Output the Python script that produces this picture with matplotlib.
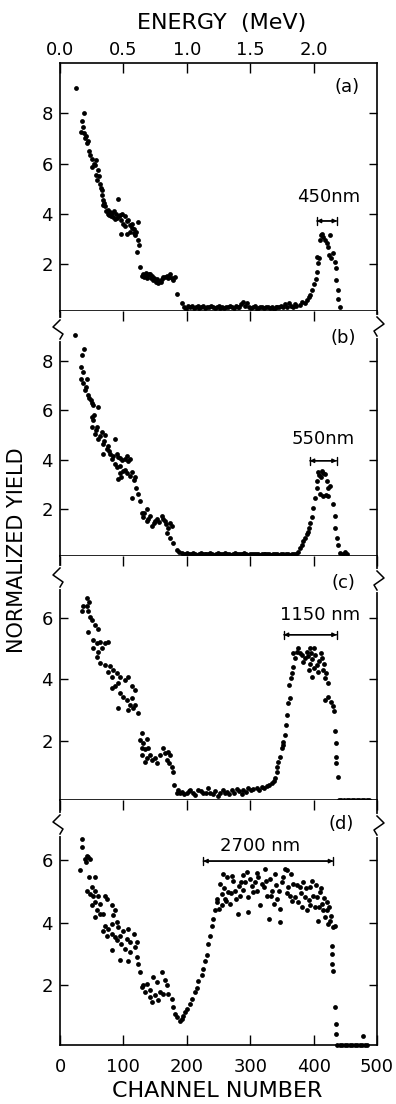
import matplotlib
matplotlib.use('Agg')
import matplotlib.pyplot as plt
from matplotlib.lines import Line2D

# ---- panel (a) ----
a_slope_ch = [26, 35, 37, 33, 38, 38, 40, 41, 43, 44, 46, 48, 50, 51, 53, 55, 57, 57, 58, 60,
              61, 63, 64, 66, 67, 68, 68, 70, 71, 73, 75, 76, 78, 79, 80, 82, 84, 85, 87, 89,
              90, 92, 93, 95, 96, 97, 98, 100, 102, 103, 105, 106, 108, 110, 111, 113, 114, 116, 117, 118,
              120, 122, 123, 123, 124]
a_slope_y = [9.0, 7.7, 7.47, 7.27, 8.0, 7.2, 7.0, 7.1, 6.8, 6.9, 6.5, 6.35, 6.2, 5.85, 6.0, 5.95, 6.14, 5.55, 5.35, 5.74,
             5.5, 5.2, 5.05, 4.95, 4.75, 4.55, 4.35, 4.45, 4.3, 4.1, 4.0, 4.15, 3.95, 4.08, 3.9, 4.05, 3.88, 4.1, 3.8, 4.0,
             3.85, 4.6, 3.9, 3.95, 3.22, 3.75, 4.0, 3.6, 3.9, 3.5, 3.22, 3.7, 3.75, 3.55, 3.3, 3.45, 3.6, 3.4, 3.25, 3.15,
             3.3, 2.5, 3.68, 2.98, 2.75]
a_step_ch = [126, 129, 131, 133, 135, 137, 138, 140, 142, 143, 145, 147, 149, 151, 153,
             155, 157, 159, 161, 163, 166, 168, 170, 172, 174, 176, 179, 181, 184, 192]
a_step_y = [1.9, 1.55, 1.6, 1.5, 1.65, 1.44, 1.55, 1.6, 1.6, 1.45, 1.55, 1.37, 1.45, 1.3, 1.4,
            1.24, 1.35, 1.3, 1.4, 1.5, 1.48, 1.55, 1.45, 1.5, 1.6, 1.45, 1.37, 1.5, 0.83, 0.47]
a_flat_ch = [196, 199, 202, 205, 208, 211, 214, 217, 220, 223,
             226, 229, 232, 235, 238, 241, 244, 247, 250, 253,
             256, 259, 262, 265, 268, 271, 274, 277, 280, 283,
             286, 289, 292, 295, 298, 301, 304, 307, 310, 313,
             316, 319, 322, 325, 328, 331, 334, 337, 340, 343,
             346, 349, 352, 355, 358, 361, 364, 367, 370, 373]
a_flat_y = [0.30, 0.22, 0.35, 0.28, 0.32, 0.25, 0.30, 0.35, 0.27, 0.30,
            0.33, 0.25, 0.30, 0.28, 0.35, 0.30, 0.25, 0.30, 0.32, 0.27,
            0.30, 0.25, 0.30, 0.28, 0.35, 0.30, 0.25, 0.32, 0.28, 0.30,
            0.40, 0.50, 0.35, 0.45, 0.30, 0.25, 0.28, 0.35, 0.22, 0.25,
            0.30, 0.28, 0.25, 0.28, 0.30, 0.25, 0.28, 0.22, 0.30, 0.28,
            0.30, 0.35, 0.28, 0.40, 0.30, 0.45, 0.35, 0.30, 0.40, 0.35]
a_peak_ch = [378, 382, 386, 389, 392, 394, 397, 400, 404, 405, 406, 407.5, 409, 410, 411,
             413, 415.5, 418, 420.6, 423, 426, 425, 427, 431, 434, 435.5, 435.5, 437.7, 439, 442]
a_peak_y = [0.37, 0.5, 0.45, 0.57, 0.7, 0.76, 0.96, 1.23, 1.43, 1.69, 2.3, 2.03, 2.23, 2.96, 3.15,
            3.22, 3.09, 2.96, 2.83, 2.69, 3.16, 2.36, 2.23, 2.43, 2.09, 1.83, 1.36, 0.97, 0.63, 0.30]

# ---- panel (b) ----
b_slope_ch = [24, 38.4, 35.2, 33, 35.7, 33, 36.8, 42, 39.4, 41, 44.7, 46, 48.4, 50, 52.6,
              60.5, 50, 52.6, 54, 50, 58, 55, 57, 65.7, 71, 60.5, 63, 86.8, 68.4, 70,
              73.6, 75, 68.4, 79, 77, 81.5, 84, 89.4, 92, 94.6, 98, 102, 105, 107, 110,
              86.8, 90, 94.6, 100, 92, 97, 95, 103, 106, 110, 114, 118, 116, 120.6, 123,
              113, 126]
b_slope_y = [9.03, 8.46, 8.22, 7.75, 7.55, 7.27, 7.1, 7.27, 6.8, 6.95, 6.6, 6.5, 6.4, 6.3, 6.19,
             6.12, 5.72, 5.59, 5.8, 5.31, 5.31, 5.04, 5.2, 5.11, 4.98, 4.84, 4.95, 4.84, 4.64, 4.75,
             4.43, 4.55, 4.23, 4.23, 4.35, 4.03, 4.15, 4.23, 4.1, 4.09, 4.0, 4.05, 4.16, 3.95, 4.03,
             3.83, 3.7, 3.76, 3.56, 3.22, 3.29, 3.45, 3.6, 3.45, 3.36, 3.5, 3.29, 3.2, 2.88, 2.61,
             2.47, 2.34]
b_step_ch = [136.7, 133, 129, 131, 142, 137, 139, 145, 148, 150, 152.6, 156, 160.5,
             163, 165.7, 167, 171, 176, 174, 168, 173.6, 178.9, 184, 188, 192]
b_step_y = [2.0, 1.85, 1.87, 1.7, 1.73, 1.53, 1.6, 1.33, 1.45, 1.55, 1.6, 1.5, 1.73,
            1.6, 1.53, 1.4, 1.26, 1.33, 1.45, 1.05, 0.85, 0.65, 0.38, 0.28, 0.24]
b_flat_ch = [195, 198, 201, 204, 207, 210, 213, 216, 219, 222,
             225, 228, 231, 234, 237, 240, 243, 246, 249, 252,
             255, 258, 261, 264, 267, 270, 273, 276, 279, 282,
             285, 288, 291, 294, 297, 300, 303, 306, 309, 312,
             315, 318, 321, 324, 327, 330, 333, 336, 339, 342,
             345, 348, 351, 354, 357, 360, 363, 366, 369, 372]
b_flat_y = [0.22, 0.20, 0.24, 0.19, 0.21, 0.23, 0.20, 0.18, 0.22, 0.25,
            0.21, 0.19, 0.22, 0.20, 0.23, 0.21, 0.18, 0.22, 0.24, 0.20,
            0.21, 0.19, 0.23, 0.22, 0.20, 0.18, 0.21, 0.24, 0.20, 0.22,
            0.19, 0.21, 0.23, 0.20, 0.18, 0.22, 0.21, 0.19, 0.20, 0.22,
            0.18, 0.20, 0.21, 0.19, 0.22, 0.20, 0.18, 0.21, 0.19, 0.20,
            0.18, 0.19, 0.21, 0.18, 0.20, 0.19, 0.18, 0.20, 0.19, 0.21]
b_peak_ch = [376, 378.6, 381, 383.8, 386, 389, 391, 393, 395, 397, 399.6, 402, 405, 406, 407.5,
             409, 411, 413, 415, 418, 420.6, 423, 426, 410, 415.5, 419, 423, 430, 434, 434,
             436.6, 438, 441.6, 446, 449.6, 452]
b_peak_y = [0.3, 0.45, 0.55, 0.72, 0.85, 0.99, 1.1, 1.26, 1.45, 1.69, 2.07, 2.47, 2.88, 3.15, 3.49,
            3.4, 3.3, 3.56, 3.45, 3.42, 3.15, 2.88, 2.95, 2.61, 2.54, 2.6, 2.54, 2.2, 1.73, 1.26,
            0.85, 0.58, 0.24, 0.2, 0.28, 0.2]

# ---- panel (c) ----
c_slope_ch = [42, 46, 36.8, 43, 34, 44.7, 47.3, 50, 55, 60.5, 44.7, 52.6, 58, 63, 71,
              76, 52.6, 60.5, 65.7, 58, 63, 71, 79, 76, 84, 89.4, 81.5, 94.6, 102, 107,
              92, 86.8, 81.5, 113, 118, 94.6, 100, 105, 113, 110, 118, 92, 108, 123, 115.5]
c_slope_y = [6.63, 6.52, 6.36, 6.36, 6.2, 6.2, 6.03, 5.92, 5.76, 5.63, 5.54, 5.27, 5.16, 5.2, 5.16,
             5.2, 5.0, 4.89, 5.0, 4.73, 4.51, 4.46, 4.41, 4.24, 4.3, 4.19, 4.08, 4.08, 3.97, 4.08,
             3.86, 3.76, 3.7, 3.76, 3.65, 3.54, 3.43, 3.32, 3.38, 3.16, 3.16, 3.07, 3.0, 2.89, 3.05]
c_step_ch = [130, 126, 131, 137, 128.6, 134, 139, 128.6, 137, 142, 145, 134, 150, 152.6,
             158, 163, 165.7, 171, 168, 173.6, 172.5, 176, 177.7, 180, 186.6, 192, 184]
c_step_y = [2.24, 2.02, 1.91, 2.05, 1.75, 1.72, 1.75, 1.53, 1.42, 1.53, 1.37, 1.32, 1.42, 1.26,
            1.53, 1.75, 1.59, 1.64, 1.37, 1.53, 1.26, 1.15, 0.99, 0.56, 0.40, 0.34, 0.29]
c_flat_ch = [189, 196, 200, 203, 205, 209, 213, 218, 222, 226,
             230, 234, 237, 241, 245, 249, 253, 257, 261, 263,
             267, 271, 275, 279, 283, 287, 289, 293, 297, 301,
             305, 310, 314, 318, 322, 326, 330, 334, 337, 339]
c_flat_y = [0.30, 0.25, 0.29, 0.35, 0.40, 0.30, 0.23, 0.40, 0.35, 0.29,
            0.30, 0.45, 0.29, 0.25, 0.35, 0.20, 0.30, 0.40, 0.30, 0.34,
            0.25, 0.38, 0.30, 0.42, 0.35, 0.28, 0.40, 0.32, 0.45, 0.38,
            0.42, 0.45, 0.40, 0.48, 0.45, 0.51, 0.55, 0.62, 0.70, 0.77]
c_peak_ch = [342, 343, 344.5, 347, 349.6, 351, 352, 355, 356.5, 358.6,
             360, 362.7, 361.6, 364, 366, 368, 370.7, 367, 373.3, 376,
             378, 381, 384, 386, 389, 391, 394, 396, 398, 400,
             402, 392, 395, 397, 400, 405, 407.5, 409, 411, 413,
             415.5, 417, 418, 420, 423, 418, 423, 427, 431, 432,
             434, 435.5, 435.5, 435.5, 437.7]
c_peak_y = [0.99, 1.15, 1.32, 1.48, 1.75, 1.85, 1.97, 2.18, 2.51, 2.84,
            3.21, 3.38, 3.81, 4.02, 4.2, 4.4, 4.68, 4.84, 4.89, 5.0,
            4.85, 4.78, 4.57, 4.7, 4.89, 4.75, 5.0, 4.85, 4.65, 5.0,
            4.78, 4.3, 4.5, 4.08, 4.35, 4.46, 4.24, 4.6, 4.85, 4.68,
            4.3, 4.5, 4.02, 4.2, 3.86, 3.32, 3.43, 3.27, 3.11, 2.95,
            2.3, 1.91, 1.48, 1.26, 0.83]
c_zero_ch = [440, 444, 448, 452, 456, 460, 464, 468, 472, 476, 480, 484, 488]
c_zero_y = [0.07, 0.07, 0.07, 0.07, 0.07, 0.07, 0.07, 0.07, 0.07, 0.07, 0.07, 0.07, 0.07]

# ---- panel (d) ----
d_slope_ch = [34.2, 35.2, 31.5, 39.4, 42, 44.7, 41, 47.3, 46, 55, 50, 42, 47.3, 55, 52.6,
              60.5, 71, 50, 55, 63, 73.6, 58, 63, 55, 68.4, 81.5, 86.8, 84, 71, 76,
              81.5, 89.4, 92, 68.4, 73.6, 81.5, 86.8, 94.6, 100, 107.8, 116, 121, 105, 110, 97,
              89.4, 81.5, 102.5, 110, 118, 94.6, 108, 121, 123, 126]
d_slope_y = [6.7, 6.43, 5.68, 6.05, 6.16, 6.1, 5.94, 6.05, 5.46, 5.46, 5.14, 5.03, 4.92, 5.03, 4.87,
             4.87, 4.87, 4.55, 4.66, 4.6, 4.76, 4.39, 4.28, 4.17, 4.28, 4.55, 4.39, 4.23, 3.9, 3.8,
             3.96, 4.01, 3.85, 3.74, 3.58, 3.63, 3.53, 3.58, 3.74, 3.8, 3.63, 3.36, 3.47, 3.36, 3.31,
             3.42, 3.1, 3.15, 3.04, 3.2, 2.8, 2.75, 2.9, 2.67, 2.4]
d_valley_ch = [131, 128.6, 137, 134, 142, 147, 152.6, 160.5, 165.7, 168, 142, 150, 155, 144.5,
               158, 163, 171, 176.6, 178.9, 182, 184, 189.5, 192, 194.5, 197, 200, 205, 208,
               213, 215.6, 218, 223.5, 226, 229, 231.6, 234, 236.6, 239, 242, 244.5, 247]
d_valley_y = [1.97, 1.92, 2.02, 1.75, 1.81, 2.23, 2.07, 2.4, 2.13, 1.97, 1.59, 1.65, 1.49, 1.44,
              1.75, 1.7, 1.7, 1.54, 1.27, 1.06, 0.95, 0.84, 0.9, 1.0, 1.1, 1.22, 1.38, 1.54,
              1.75, 1.9, 2.1, 2.3, 2.5, 2.75, 2.94, 3.3, 3.58, 3.9, 4.12, 4.39, 4.66]
d_plat_ch = [250, 247, 255, 252.4, 255, 260, 257.6, 263, 265.5, 268,
             273.5, 276, 280, 281.6, 284, 289.4, 292, 294.6, 297, 297,
             302.4, 305, 307.6, 313, 315.5, 321, 323.5, 326, 329, 331.5,
             334, 337, 339.6, 345, 347, 347, 352.4, 355, 357.6, 360,
             363, 368, 371, 376, 378.6, 381, 384, 386.6, 389, 392,
             397, 399.6, 402, 405, 407.5, 410, 413, 415.5, 418, 420.6,
             423, 426, 431, 433.6,
             258, 262, 270, 271, 278, 286, 288, 300, 310, 311,
             318, 325, 333, 341, 343, 350, 358, 365, 366, 374,
             380, 388, 394, 395, 403, 408, 412, 416, 421, 425, 428]
d_plat_y = [4.44, 4.76, 4.55, 5.25, 4.93, 4.76, 5.57, 5.46, 4.98, 4.6,
            5.35, 5.03, 4.28, 5.19, 4.87, 5.52, 5.3, 5.62, 4.82, 4.33,
            5.19, 4.98, 5.3, 5.46, 4.55, 5.14, 5.73, 4.87, 4.12, 5.41,
            5.03, 4.6, 5.57, 5.03, 4.01, 4.44, 5.46, 5.73, 5.68, 5.14,
            4.87, 5.25, 4.82, 4.66, 5.14, 4.5, 5.3, 4.82, 4.39, 4.71,
            5.35, 4.87, 4.5, 4.82, 4.06, 4.98, 4.6, 4.39, 4.17, 4.39,
            3.95, 4.06, 3.85, 3.9,
            5.1, 4.7, 4.95, 5.5, 4.75, 5.3, 5.05, 5.4, 5.0, 5.6,
            5.25, 5.35, 4.85, 5.2, 4.75, 5.3, 4.95, 5.55, 4.7, 5.2,
            4.95, 5.1, 4.55, 5.15, 5.2, 4.5, 5.1, 4.8, 4.65, 4.5, 4.2]
d_drop_ch = [429.6, 429.6, 429.6, 431, 433.6, 435, 435, 478]
d_drop_y = [3.23, 3.0, 2.66, 2.45, 1.27, 0.73, 0.41, 0.33]
d_zero_ch = [437, 441, 445, 449, 453, 457, 461, 465, 469, 473, 477, 481, 485]
d_zero_y = [0.05, 0.05, 0.05, 0.05, 0.05, 0.05, 0.05, 0.05, 0.05, 0.05, 0.05, 0.05, 0.05]

panel_labels = ['(a)', '(b)', '(c)', '(d)']
label_pos = [(452, 9.06), (447, 8.9), (447, 7.12), (444, 7.18)]
thickness_text = ['450nm', '550nm', '1150 nm', '2700 nm']
thickness_text_pos = [(423, 4.67), (415, 4.84), (410, 6.09), (315, 6.48)]
thickness_bar = [(405, 437, 3.72), (394, 436.5, 3.96), (353, 436.5, 5.44), (226, 431, 5.98)]
ylims = [(0.14, 10.0), (0.12, 10.0), (0.07, 8.0), (0.05, 7.95)]
yticks = [[2, 4, 6, 8], [2, 4, 6, 8], [2, 4, 6], [2, 4, 6]]
channel_ticks = [0, 100, 200, 300, 400, 500]
energy_ticks = [0, 100, 200, 300, 400]
energy_labels = ['0.0', '0.5', '1.0', '1.5', '2.0']

W, H = 396, 1104


def draw_break(fig, x_px, y_px, side):
    # white gap in the spine, then the zigzag
    fig.add_artist(Line2D([x_px / W, x_px / W], [1 - (y_px - 9) / H, 1 - (y_px + 10) / H],
                          transform=fig.transFigure, color='white', lw=3, zorder=5))
    pts = [(0, -9), (7 * side, -2), (-3 * side, 5), (0, 10)]
    xs = [(x_px + dx) / W for dx, dy in pts]
    ys = [1 - (y_px + dy) / H for dx, dy in pts]
    fig.add_artist(Line2D(xs, ys, transform=fig.transFigure, color='black', lw=1.1, zorder=6))


def main():
    plt.rcParams['font.family'] = 'DejaVu Sans'
    fig = plt.figure(figsize=(W / 100, H / 100), dpi=100)

    data = [
        (a_slope_ch + a_step_ch + a_flat_ch + a_peak_ch, a_slope_y + a_step_y + a_flat_y + a_peak_y),
        (b_slope_ch + b_step_ch + b_flat_ch + b_peak_ch, b_slope_y + b_step_y + b_flat_y + b_peak_y),
        (c_slope_ch + c_step_ch + c_flat_ch + c_peak_ch + c_zero_ch,
         c_slope_y + c_step_y + c_flat_y + c_peak_y + c_zero_y),
        (d_slope_ch + d_valley_ch + d_plat_ch + d_drop_ch + d_zero_ch,
         d_slope_y + d_valley_y + d_plat_y + d_drop_y + d_zero_y),
    ]

    left_px, right_px = 60, 377
    tops = [63, 311, 556, 800]
    bottoms = [311, 556, 800, 1045]

    for i, (ch, yv) in enumerate(data):
        ax = fig.add_axes([left_px / W, 1 - bottoms[i] / H,
                           (right_px - left_px) / W, (bottoms[i] - tops[i]) / H])
        ax.scatter(ch, yv, s=12, c='black', linewidths=0, clip_on=False, zorder=3)
        ax.set_xlim(0, 500)
        ax.set_ylim(*ylims[i])
        ax.set_yticks(yticks[i])
        ax.tick_params(axis='y', direction='in', left=True, right=True, length=6, width=1,
                       labelsize=13, pad=5)
        if i == 0:
            ax.set_xticks(energy_ticks)
            ax.set_xticklabels(energy_labels)
            ax.tick_params(axis='x', direction='in', top=True, bottom=False, labeltop=True,
                           labelbottom=False, length=7, width=1, labelsize=13, pad=3)
        else:
            ax.set_xticks(channel_ticks)
            ax.tick_params(axis='x', direction='in', top=True, bottom=(i == 3), labeltop=False,
                           labelbottom=(i == 3), length=7, width=1, labelsize=13, pad=9)
            ax.spines['top'].set_visible(False)
        for sp in ax.spines.values():
            sp.set_linewidth(1.2)

        lx, ly = label_pos[i]
        ax.text(lx, ly, panel_labels[i], ha='center', va='center', fontsize=13)
        tx, ty = thickness_text_pos[i]
        ax.text(tx, ty, thickness_text[i], ha='center', va='center', fontsize=13)
        x0, x1, yb = thickness_bar[i]
        ax.annotate('', xy=(x1, yb), xytext=(x0, yb),
                    arrowprops=dict(arrowstyle='<|-|>', color='black', lw=1,
                                    mutation_scale=6, shrinkA=0, shrinkB=0))
        ax.annotate('', xy=(x1, yb), xytext=(x0, yb),
                    arrowprops=dict(arrowstyle='|-|,widthA=0.3,widthB=0.3', color='black', lw=1,
                                    mutation_scale=10, shrinkA=0, shrinkB=0))

    # axis break marks at top of panels b, c, d
    left_breaks = [329, 577, 824]
    right_breaks = [326, 580, 825]
    for yl, yr in zip(left_breaks, right_breaks):
        draw_break(fig, left_px, yl, -1)
        draw_break(fig, right_px, yr, 1)

    fig.text(222 / W, 1 - 23 / H, 'ENERGY  (MeV)', ha='center', va='center', fontsize=16)
    fig.text(217 / W, 1 - 1091 / H, 'CHANNEL NUMBER', ha='center', va='center', fontsize=16)
    fig.text(17 / W, 1 - 550 / H, 'NORMALIZED YIELD', ha='center', va='center',
             rotation=90, fontsize=15)

    fig.savefig('out.png', dpi=100, facecolor='white')


if __name__ == '__main__':
    main()
